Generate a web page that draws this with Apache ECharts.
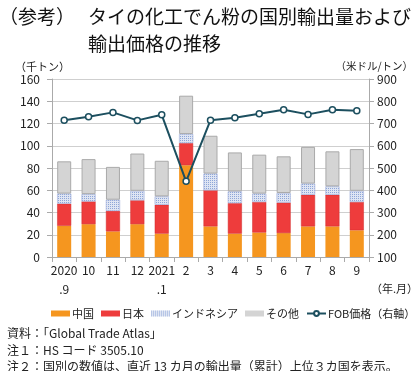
<!DOCTYPE html>
<html><head><meta charset="utf-8">
<script src="https://cdn.jsdelivr.net/npm/echarts@6/dist/echarts.min.js"></script>
<style>html,body{margin:0;padding:0;background:#fff}#c{width:420px;height:371px}</style>
</head><body><div id="c"></div>
<script>
const categories = ['2020\n.9','10','11','12','2021\n.1','2','3','4','5','6','7','8','9'];
const china = [28, 29.5, 23, 29.5, 21, 82.5, 27.5, 21, 22, 21.5, 27.5, 27.5, 24];
const japan = [20, 20.5, 18.5, 21.5, 26, 20, 32.5, 27.5, 27.5, 27.5, 28.5, 28.5, 25.5];
const indonesia = [9, 6.5, 10, 8.5, 7.5, 8, 15, 10.5, 7.5, 8.5, 10, 7.5, 10];
const others = [29, 31.5, 29.5, 33.5, 32, 34.5, 34, 35, 35, 33, 33, 31.5, 37.5];
const fob = [715, 730, 750, 714, 739, 440, 715, 726, 744, 762, 741, 762, 757];
const seriesNames = ['中国','日本','インドネシア','その他','FOB価格（右軸）'];

const FONT = '"Noto Sans CJK JP", sans-serif';
const chart = echarts.init(document.getElementById('c'), null, {renderer:'canvas'});
const barW = 14;
const tStyle = (s) => ({fontFamily:FONT, fontSize:s, fontWeight:'normal', color:'#111'});
const nStyle = (s) => ({fontFamily:FONT, fontSize:s, fontWeight:'normal', color:'#222'});
chart.setOption({
  animation:false,
  textStyle:{fontFamily:FONT},
  title:[
    {text:'（参考）', left:-6, top:2, textStyle:tStyle(19)},
    {text:'タイの化工でん粉の国別輸出量および', left:83, top:2, textStyle:tStyle(19)},
    {text:'輸出価格の推移', left:83, top:29, textStyle:tStyle(19)},
    {text:'資料：「Global Trade Atlas」', left:2, top:322, textStyle:nStyle(12)},
    {text:'注１：HS コード 3505.10', left:2, top:339, textStyle:nStyle(12)},
    {text:'注２：国別の数値は、直近 13 カ月の輸出量（累計）上位３カ国を表示。', left:2, top:355, textStyle:nStyle(12)},
    {text:'（年.月）', left:366, top:278, textStyle:nStyle(11)},
    {text:'（千トン）', left:10, top:56, textStyle:nStyle(11)},
    {text:'（米ドル/トン）', right:2, top:56, textStyle:nStyle(10.5)}
  ],
  legend:{
    data:[
      {name:seriesNames[0], icon:'rect', itemStyle:{borderWidth:0}},
      {name:seriesNames[1], icon:'rect', itemStyle:{borderWidth:0}},
      {name:seriesNames[2], icon:'rect', itemStyle:{borderWidth:0}},
      {name:seriesNames[3], icon:'rect', itemStyle:{borderWidth:0}},
      {name:seriesNames[4]}
    ],
    top:303, left:46, width:380, itemWidth:19, itemHeight:6, itemGap:7,
    textStyle:{fontFamily:FONT, fontSize:11, color:'#222', padding:[0,0,0,-3]}
  },
  grid:{left:52, right:51, top:79, bottom:114},
  xAxis:{
    type:'category', data:categories,
    axisLine:{lineStyle:{color:'#aaa'}},
    axisTick:{show:true, lineStyle:{color:'#aaa'}},
    axisLabel:{interval:0, fontFamily:FONT, fontSize:12, color:'#222', lineHeight:19, margin:4}
  },
  yAxis:[
    {type:'value', min:0, max:160, interval:20,
     axisLine:{show:true, lineStyle:{color:'#aaa'}}, axisTick:{show:true, lineStyle:{color:'#aaa'}},
     axisLabel:{fontFamily:FONT, fontSize:12, color:'#222', margin:12},
     splitLine:{lineStyle:{color:'#cfcfcf'}}},
    {type:'value', min:100, max:900, interval:100,
     axisLine:{show:true, lineStyle:{color:'#aaa'}}, axisTick:{show:true, lineStyle:{color:'#aaa'}},
     axisLabel:{fontFamily:FONT, fontSize:12, color:'#222', margin:8},
     splitLine:{show:false}}
  ],
  series:[
    {name:seriesNames[0], type:'bar', stack:'a', data:china, barWidth:barW,
     itemStyle:{color:'#F5961F'}},
    {name:seriesNames[1], type:'bar', stack:'a', data:japan, barWidth:barW,
     itemStyle:{color:'#EE3C3C', borderColor:'#d02a2a', borderWidth:0.5}},
    {name:seriesNames[2], type:'bar', stack:'a', data:indonesia, barWidth:barW,
     itemStyle:{color:'#dfe5f3', borderColor:'#b0bde0', borderWidth:0.5,
       decal:{symbol:'rect', symbolSize:1, color:'#8ea6d8', dashArrayX:[1,1], dashArrayY:[1,1], rotation:0}}},
    {name:seriesNames[3], type:'bar', stack:'a', data:others, barWidth:barW,
     itemStyle:{color:'#D4D4D4', borderColor:'#aaaaaa', borderWidth:1}},
    {name:seriesNames[4], type:'line', yAxisIndex:1, data:fob, symbol:'circle', symbolSize:6,
     lineStyle:{color:'#1C4F5F', width:2},
     itemStyle:{color:'#fff', borderColor:'#1C4F5F', borderWidth:1.5}, z:5}
  ]
});
</script></body></html>
